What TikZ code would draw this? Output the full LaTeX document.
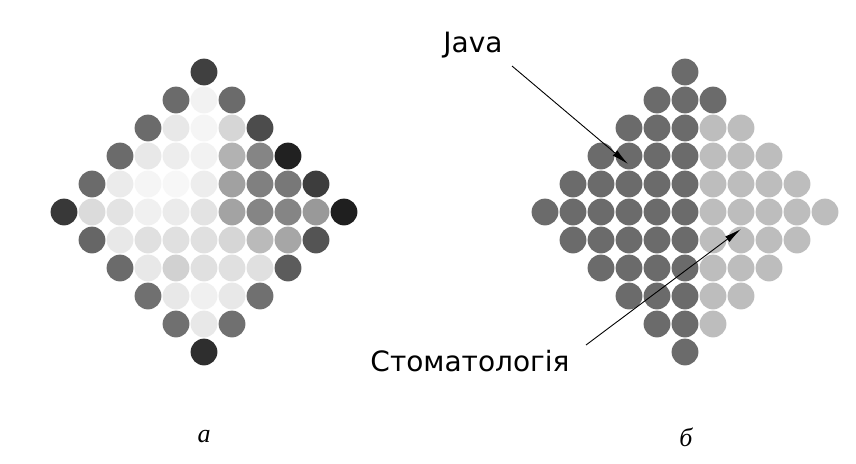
\documentclass[tikz,border=0pt]{standalone}
\usepackage{fontspec}
\setmainfont{DejaVu Sans}
\newfontfamily\labfont{Liberation Serif}
\usetikzlibrary{arrows.meta}
\tikzset{
  dot/.style={circle, inner sep=0pt, minimum size=26.8pt, draw=none},
  lbl/.style={font=\fontsize{28}{31}\selectfont, inner sep=0pt},
  captext/.style={font=\labfont\itshape\fontsize{26}{28}\selectfont, inner sep=0pt},
  arr/.style={line width=0.9pt, -{Latex[length=17pt,width=7pt]}},
}
\definecolor{darkcell}{gray}{0.42}
\definecolor{lightcell}{gray}{0.74}
\begin{document}
\begin{tikzpicture}[x=1pt,y=-1pt]
\useasboundingbox[fill=white] (0,0) rectangle (856,463);
% left diamond (grey map)
\foreach \row [count=\jj] in {
  {0.25},
  {0.42,0.95,0.42},
  {0.42,0.91,0.96,0.84,0.30},
  {0.42,0.91,0.93,0.95,0.70,0.52,0.13},
  {0.42,0.92,0.96,0.97,0.93,0.63,0.50,0.47,0.24},
  {0.22,0.86,0.89,0.94,0.92,0.89,0.64,0.52,0.52,0.60,0.12},
  {0.40,0.91,0.88,0.88,0.88,0.84,0.73,0.65,0.33},
  {0.42,0.91,0.82,0.88,0.88,0.88,0.36},
  {0.44,0.91,0.94,0.91,0.44},
  {0.44,0.91,0.44},
  {0.18}} {
  \pgfmathtruncatemacro\jrow{\jj-6}
  \pgfmathtruncatemacro\half{5-abs(\jrow)}
  \foreach \g [count=\ii] in \row {
    \pgfmathtruncatemacro\icol{\ii-1-\half}
    \definecolor{cellc}{gray}{\g}
    \node[dot, fill=cellc] (L\ii-\jj) at ({204+28*\icol},{212+28*\jrow}) {};
  }
}
% right diamond (two clusters)
\foreach \jrow in {-5,...,5} {
  \pgfmathtruncatemacro\half{5-abs(\jrow)}
  \foreach \icol in {-\half,...,\half} {
    \pgfmathtruncatemacro\isdark{(\icol<1) || (\jrow==-4)}
    \ifnum\isdark=1 \def\cc{darkcell}\else\def\cc{lightcell}\fi
    \node[dot, fill=\cc] (R\icol/\jrow) at ({685+28*\icol},{212+28*\jrow}) {};
  }
}
% labels and arrows
\node[lbl] (java) at (473,45) {Java};
\node[lbl] (stom) at (470,361) {Стоматологія};
\coordinate (jstart) at (512,66);
\coordinate (jtip) at (628,164);
\coordinate (sstart) at (586,345);
\coordinate (stip) at (741,229);
\draw[arr] (jstart) -- (jtip);
\draw[arr] (sstart) -- (stip);
\node[captext] (capa) at (204,437) {а};
\node[captext] (capb) at (686,437) {б};
\end{tikzpicture}
\end{document}
